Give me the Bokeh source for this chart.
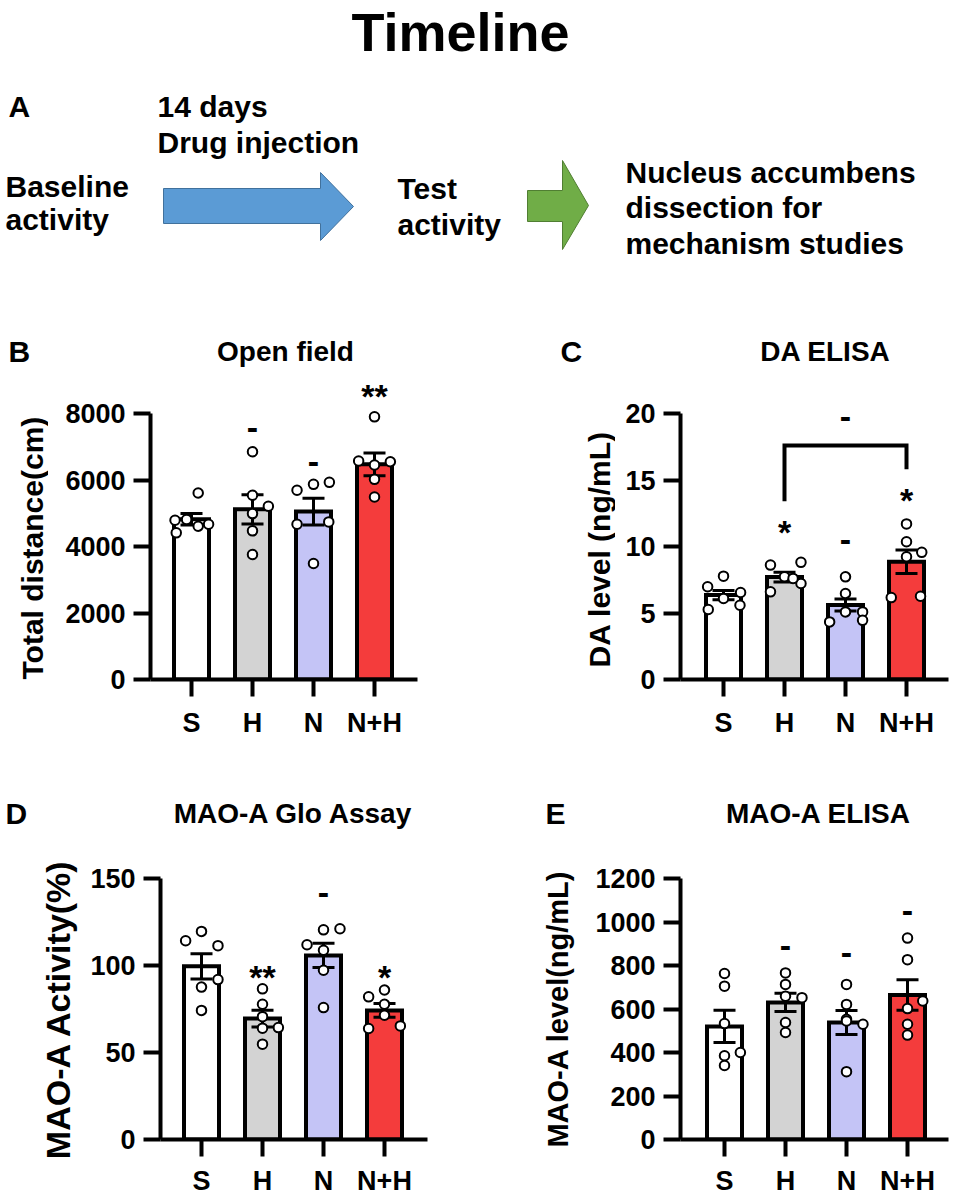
import numpy as np
from bokeh.plotting import figure
from bokeh.layouts import column, row
from bokeh.models import ColumnDataSource, Range1d, FixedTicker
from bokeh.core.properties import value
from bokeh.embed import file_html
from bokeh.resources import INLINE

FONT = "Liberation Sans"
W = 955

# ---------------- data ----------------
groups = ["S", "H", "N", "N+H"]
bar_colors = ["#ffffff", "#d3d3d3", "#c4c4f6", "#f43c3c"]

# B  Open field
b_title = "Open field"
b_ylabel = "Total distance(cm)"
b_yticks = [0, 2000, 4000, 6000, 8000]
b_mean = [4820, 5120, 5050, 6470]
b_sem = [170, 440, 400, 340]
b_points = [
    [5610, 4790, 4810, 4610, 4670, 4410],
    [6850, 5540, 5210, 4990, 4470, 3760],
    [5690, 5870, 5930, 4670, 4740, 3490],
    [7900, 6570, 6450, 6550, 6020, 5490],
]
b_offsets = [
    [0.11, -0.27, -0.08, 0.11, 0.28, -0.25],
    [0.0, 0.0, 0.26, 0.0, 0.0, 0.0],
    [-0.27, 0.0, 0.26, -0.27, 0.25, 0.0],
    [0.0, -0.26, 0.0, 0.26, 0.0, 0.0],
]
b_mark_group = ["H", "N", "N+H"]
b_mark_y = [7570, 6550, 8680]
b_mark_text = ["-", "-", "**"]

# C  DA ELISA
c_title = "DA ELISA"
c_ylabel = "DA level (ng/mL)"
c_yticks = [0, 5, 10, 15, 20]
c_mean = [6.35, 7.7, 5.6, 8.85]
c_sem = [0.35, 0.36, 0.45, 0.88]
c_points = [
    [7.77, 6.97, 6.54, 6.09, 5.26, 5.58],
    [8.60, 8.81, 7.72, 7.22, 6.59, 7.60],
    [7.72, 6.47, 5.08, 5.08, 4.33, 4.45],
    [11.70, 10.36, 9.56, 9.23, 6.16, 6.26],
]
c_offsets = [
    [0.0, -0.26, 0.28, 0.0, -0.25, 0.27],
    [-0.23, 0.27, 0.0, 0.27, -0.23, 0.14],
    [0.0, 0.0, 0.28, 0.0, -0.26, 0.28],
    [0.0, 0.0, 0.25, 0.0, -0.25, 0.23],
]
c_mark_group = ["H", "N", "N+H"]
c_mark_y = [11.5, 10.5, 13.9]
c_mark_text = ["*", "-", "*"]
c_bracket_groups = ["H", "N+H"]
c_bracket_y = [13.4, 17.6, 15.8]
c_bracket_mark = "-"
c_bracket_mark_y = 19.8

# D  MAO-A Glo Assay
d_title = "MAO-A Glo Assay"
d_ylabel = "MAO-A Activity(%)"
d_yticks = [0, 50, 100, 150]
d_mean = [99.5, 69.5, 105.8, 74.2]
d_sem = [7.2, 4.8, 7.0, 3.9]
d_points = [
    [119.6, 114.2, 111.4, 91.9, 87.6, 74.2],
    [86.6, 77.7, 70.6, 64.3, 64.0, 54.8],
    [120.5, 121.1, 111.9, 108.7, 97.3, 75.8],
    [85.9, 82.0, 77.7, 71.4, 63.8, 65.3],
]
d_offsets = [
    [0.0, -0.26, 0.27, 0.27, 0.0, 0.0],
    [0.0, 0.0, 0.0, 0.26, 0.0, 0.0],
    [0.0, 0.27, -0.27, 0.0, 0.0, 0.0],
    [0.0, -0.26, 0.0, 0.0, -0.26, 0.26],
]
d_mark_group = ["H", "N", "N+H"]
d_mark_y = [96, 141.8, 96]
d_mark_text = ["**", "-", "*"]

# E  MAO-A ELISA
e_title = "MAO-A ELISA"
e_ylabel = "MAO-A level(ng/mL)"
e_yticks = [0, 200, 400, 600, 800, 1000, 1200]
e_mean = [520, 630, 538, 664]
e_sem = [74, 42, 55, 70]
e_points = [
    [763, 705, 533, 400, 385, 340],
    [766, 713, 659, 652, 538, 492],
    [713, 621, 553, 530, 545, 312],
    [926, 827, 637, 602, 530, 480],
]
e_offsets = [
    [0.0, 0.0, 0.0, 0.26, 0.0, 0.0],
    [0.0, 0.0, 0.0, 0.27, 0.0, 0.0],
    [0.0, 0.0, 0.0, 0.27, 0.0, 0.0],
    [0.0, 0.0, 0.25, 0.0, 0.0, 0.0],
]
e_mark_group = ["H", "N", "N+H"]
e_mark_y = [891, 860, 1051]
e_mark_text = ["-", "-", "-"]

# Timeline texts
timeline_title = "Timeline"
step_baseline = ["Baseline", "activity"]
step_drug = ["14 days", "Drug injection"]
step_test = ["Test", "activity"]
step_final = ["Nucleus accumbens", "dissection for", "mechanism studies"]

# ---------------- helpers ----------------
PX = 61.0  # pixels per category step


def blank(width, height, xr=None, yr=None):
    p = figure(width=width, height=height,
               x_range=xr if xr is not None else Range1d(0, width),
               y_range=yr if yr is not None else Range1d(height, 0),
               x_axis_location=None, y_axis_location=None, toolbar_location=None,
               output_backend="svg", min_border=0, title=None)
    p.outline_line_color = None
    for gr in p.grid:
        gr.visible = False
    return p


def txt(p, x, y, text, size, align="left", angle=0.0):
    p.text(x=x, y=y, text=text, angle=angle, text_font=value(FONT), text_font_style="bold",
           text_font_size=f"{size}px", text_align=align, text_baseline="middle",
           text_color="black")


GEOM = {
    "B": dict(x0=48, w=430, y0=376, h=382, axis=150, s=191, right=417,
              frame_top=377, tick_top=413, bottom=679, xstand=11),
    "C": dict(x0=615, w=340, y0=376, h=382, axis=680, s=723, right=948,
              frame_top=377, tick_top=413, bottom=679, xstand=11),
    "D": dict(x0=0, w=478, y0=850, h=348, axis=160, s=201, right=427,
              frame_top=878, tick_top=878, bottom=1141, xstand=9),
    "E": dict(x0=478, w=477, y0=850, h=348, axis=680, s=724, right=948,
              frame_top=878, tick_top=878, bottom=1141, xstand=9),
}


def make_panel(g, yticks, mean, sem, points, offsets, mark_group, mark_y, mark_text,
               ylabel=None, label_size=30, label_standoff=0):
    ymax = yticks[-1]
    ppu = (g["bottom"] - g["tick_top"]) / ymax
    yend = (g["bottom"] - g["frame_top"]) / ppu
    x0 = (g["axis"] - g["s"]) / PX
    x1 = (g["right"] - g["s"]) / PX
    p = figure(width=g["w"], height=g["h"], x_range=Range1d(x0, x1), y_range=Range1d(0, yend),
               output_backend="svg", toolbar_location=None, title=None,
               min_border_left=g["axis"] - g["x0"],
               min_border_right=g["x0"] + g["w"] - g["right"],
               min_border_top=g["frame_top"] - g["y0"],
               min_border_bottom=g["y0"] + g["h"] - g["bottom"])
    p.outline_line_color = None
    p.xgrid.visible = False
    p.ygrid.visible = False
    p.xaxis.ticker = FixedTicker(ticks=list(range(len(groups))))
    p.xaxis.major_label_overrides = {i: gname for i, gname in enumerate(groups)}
    p.yaxis.ticker = FixedTicker(ticks=yticks)
    p.yaxis.bounds = (0, ymax)
    for ax in (p.xaxis[0], p.yaxis[0]):
        ax.axis_line_width = 4
        ax.axis_line_color = "black"
        ax.major_tick_line_width = 4
        ax.major_tick_line_color = "black"
        ax.major_tick_out = 17
        ax.major_tick_in = 0
        ax.minor_tick_line_color = None
        ax.major_label_text_font = FONT
        ax.major_label_text_font_style = "bold"
        ax.major_label_text_font_size = "27px"
        ax.major_label_text_color = "black"
    p.yaxis.major_label_standoff = 8
    p.xaxis.major_label_standoff = g["xstand"]
    if ylabel is not None:
        p.yaxis.axis_label = ylabel
        p.yaxis.axis_label_text_font = FONT
        p.yaxis.axis_label_text_font_style = "bold"
        p.yaxis.axis_label_text_font_size = f"{label_size}px"
        p.yaxis.axis_label_text_color = "black"
        p.yaxis.axis_label_standoff = label_standoff

    xs = np.arange(len(groups), dtype=float)
    mean_a = np.array(mean, dtype=float)
    sem_a = np.array(sem, dtype=float)
    src = ColumnDataSource(dict(x=xs, top=mean_a, color=bar_colors))
    p.vbar(x="x", top="top", bottom=0, width=35 / PX, fill_color="color",
           line_color="black", line_width=4, line_join="miter", source=src)

    lo = mean_a - sem_a
    hi = mean_a + sem_a
    cap = 22 / PX
    p.segment(x0=xs, y0=lo, x1=xs, y1=hi, line_width=3, line_color="black")
    p.segment(x0=xs - cap / 2, y0=hi, x1=xs + cap / 2, y1=hi, line_width=3, line_color="black")
    p.segment(x0=xs - cap / 2, y0=lo, x1=xs + cap / 2, y1=lo, line_width=3, line_color="black")

    ptx, pty = [], []
    for i, (vals, offs) in enumerate(zip(points, offsets)):
        for v, o in zip(vals, offs):
            ptx.append(i + o)
            pty.append(v)
    p.scatter(ptx, pty, marker="circle", size=9.5, fill_color="white",
              line_color="black", line_width=2)

    mx = [groups.index(m) for m in mark_group]
    my = [y - (5 / ppu if "*" in t else 0) for y, t in zip(mark_y, mark_text)]
    p.text(x=mx, y=my, text=mark_text, text_font=value(FONT), text_font_style="bold",
           text_font_size="34px", text_align="center", text_baseline="middle",
           text_color="black")
    return p, ppu


# ---------------- top: timeline + panel A + B/C headers ----------------
top = blank(W, 376)
txt(top, [460], [31], [timeline_title], 54, "center")
txt(top, [8], [106], ["A"], 30)
txt(top, [157, 157], [106, 142], step_drug, 30)
txt(top, [5, 5], [186, 219], step_baseline, 30)
txt(top, [397, 397], [188, 224], step_test, 30)
txt(top, [625, 625, 625], [172, 207, 243], step_final, 30)
top.patch(x=[163, 320, 320, 353, 320, 320, 163], y=[188, 188, 172, 206, 240, 223, 223],
          fill_color="#5b9bd5", line_color="#41719c", line_width=1)
top.patch(x=[527, 562, 562, 588, 562, 562, 527], y=[190, 190, 160, 205, 249, 221, 221],
          fill_color="#70ad47", line_color="#507e32", line_width=1)
txt(top, [8], [351], ["B"], 30)
txt(top, [285], [351], [b_title], 28, "center")
txt(top, [560], [351], ["C"], 30)
txt(top, [825], [351], [c_title], 28, "center")

pB, _ = make_panel(GEOM["B"], b_yticks, b_mean, b_sem, b_points, b_offsets,
                   b_mark_group, b_mark_y, b_mark_text)
pC, c_ppu = make_panel(GEOM["C"], c_yticks, c_mean, c_sem, c_points, c_offsets,
                       c_mark_group, c_mark_y, c_mark_text)
i0 = groups.index(c_bracket_groups[0])
i1 = groups.index(c_bracket_groups[1])
pC.line(x=[i0, i0, i1, i1], y=[c_bracket_y[0], c_bracket_y[1], c_bracket_y[1], c_bracket_y[2]],
        line_width=4, line_color="black", line_join="miter")
pC.text(x=[(i0 + i1) / 2], y=[c_bracket_mark_y], text=[c_bracket_mark], text_font=value(FONT),
        text_font_style="bold", text_font_size="34px", text_align="center",
        text_baseline="middle", text_color="black")

# rotated y titles of B and C: the row aligns these frames with the chart frames
# (page y 377..679); data y here = 1056 - page y, data x = page x
FT, FB = 377, 679
labB = blank(48, 382, xr=Range1d(0, 48), yr=Range1d(1056 - FB, 1056 - FT))
txt(labB, [32], [1056 - 679], [b_ylabel], 30, "left", np.pi / 2)
labC = blank(137, 382, xr=Range1d(478, 615), yr=Range1d(1056 - FB, 1056 - FT))
txt(labC, [599], [1056 - 667], [c_ylabel], 30, "left", np.pi / 2)

strip = blank(W, 92)
txt(strip, [5], [55], ["D"], 30)
txt(strip, [293], [55], [d_title], 28, "center")
txt(strip, [545], [55], ["E"], 30)
txt(strip, [818], [55], [e_title], 28, "center")

pD, _ = make_panel(GEOM["D"], d_yticks, d_mean, d_sem, d_points, d_offsets,
                   d_mark_group, d_mark_y, d_mark_text,
                   ylabel=d_ylabel, label_size=34, label_standoff=10)
pE, _ = make_panel(GEOM["E"], e_yticks, e_mean, e_sem, e_points, e_offsets,
                   e_mark_group, e_mark_y, e_mark_text,
                   ylabel=e_ylabel, label_size=29, label_standoff=18)

layout = column(top,
                row(labB, pB, labC, pC, spacing=0),
                strip,
                row(pD, pE, spacing=0),
                spacing=0)
open("out.html", "w").write(file_html(layout, INLINE))
